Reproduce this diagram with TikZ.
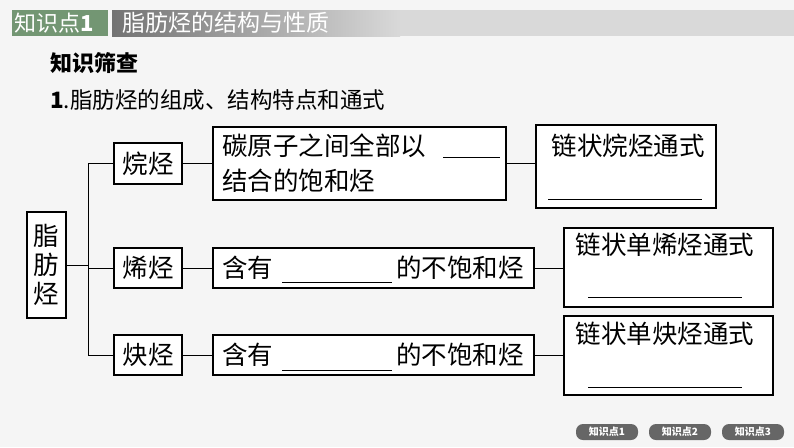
\documentclass[tikz,border=0pt]{standalone}
\usepackage{fontspec}
\setmainfont{Noto Sans CJK SC}
\begin{document}
\begin{tikzpicture}[x=1pt,y=-1pt,
 bx/.style={draw,line width=1.2pt,fill=white},
 ln/.style={line width=0.8pt},
 txt/.style={font=\fontsize{25.5}{29}\selectfont,inner sep=0pt},
 pill/.style={fill=black!60,rounded corners=7pt,text=white,font=\bfseries\fontsize{10}{11}\selectfont,minimum width=62pt,minimum height=16pt,inner sep=0pt}]
\fill[green!3!black!4] (0,0) rectangle (794,447);
\useasboundingbox (0,0) rectangle (794,447);
\shade[left color=black!55,right color=black!15] (112,10) rectangle (400,36);
\fill[black!15] (400,10) rectangle (794,36);
\fill[green!25!black!55] (12,10) rectangle (108,36);
\node[text=white,font=\fontsize{22}{24}\selectfont,inner sep=0pt,anchor=west] (h1) at (14,23) {知识点\textbf{1}};
\node[text=white,font=\fontsize{23}{25}\selectfont,inner sep=0pt,anchor=west] (h2) at (122,23) {脂肪烃的结构与性质};
\node[font=\bfseries\fontsize{22}{24}\selectfont,inner sep=0pt,anchor=west] (t1) at (50,63) {知识筛查};
\node[font=\fontsize{22.5}{24}\selectfont,inner sep=0pt,anchor=west] (t2) at (50,100) {\textbf{1}.脂肪烃的组成、结构特点和通式};
% tree
\node[bx,txt,minimum width=39pt,minimum height=106pt,align=center] (root) at (46.5,265) {脂\\肪\\烃};
\node[bx,txt,minimum width=68pt,minimum height=41pt] (a) at (148,163.5) {烷烃};
\node[bx,txt,minimum width=68pt,minimum height=40pt] (b) at (148,268) {烯烃};
\node[bx,txt,minimum width=68pt,minimum height=40pt] (c) at (148,355) {炔烃};
\coordinate (j) at (88,265);
\draw[ln] (root.east) -- (j);
\draw[ln] (88,163.5) -- (88,355);
\draw[ln] (88,163.5) -- (a.west);
\draw[ln] (88,268) -- (b.west);
\draw[ln] (88,355) -- (c.west);
\node[bx,minimum width=293pt,minimum height=73pt] (da) at (359.5,163.5) {};
\node[txt,anchor=west] at (222,146) {碳原子之间全部以};
\draw[line width=1pt] (443,157) -- (500,157);
\node[txt,anchor=west] at (222,181) {结合的饱和烃};
\node[bx,minimum width=321pt,minimum height=40pt] (db) at (373.5,268) {};
\node[txt,anchor=west] at (222,268) {含有};
\draw[line width=1pt] (282,282) -- (392,282);
\node[txt,anchor=west] at (396,268) {的不饱和烃};
\node[bx,minimum width=321pt,minimum height=40pt] (dc) at (373.5,355) {};
\node[txt,anchor=west] at (222,355) {含有};
\draw[line width=1pt] (282,370) -- (392,370);
\node[txt,anchor=west] at (396,355) {的不饱和烃};
\node[bx,minimum width=180pt,minimum height=83pt] (ra) at (626,166.5) {};
\node[txt] at (628,146) {链状烷烃通式};
\draw[line width=1pt] (548,199) -- (702,199);
\node[bx,minimum width=209pt,minimum height=79pt] (rb) at (668.5,267.5) {};
\node[txt] at (665,245) {链状单烯烃通式};
\draw[line width=1pt] (588,297) -- (742,297);
\node[bx,minimum width=209pt,minimum height=79pt] (rc) at (668.5,355.5) {};
\node[txt] at (665,334) {链状单炔烃通式};
\draw[line width=1pt] (588,387) -- (742,387);
\draw[ln] (a.east) -- (da.west);
\draw[ln] (b.east) -- (db.west);
\draw[ln] (c.east) -- (dc.west);
\draw[ln] (da.east) -- (ra.west|-da.east);
\draw[ln] (db.east) -- (rb.west|-db.east);
\draw[ln] (dc.east) -- (rc.west|-dc.east);
\node[pill] (p1) at (607,432) {知识点1};
\node[pill] (p2) at (680,432) {知识点2};
\node[pill] (p3) at (753,432) {知识点3};
\end{tikzpicture}
\end{document}
